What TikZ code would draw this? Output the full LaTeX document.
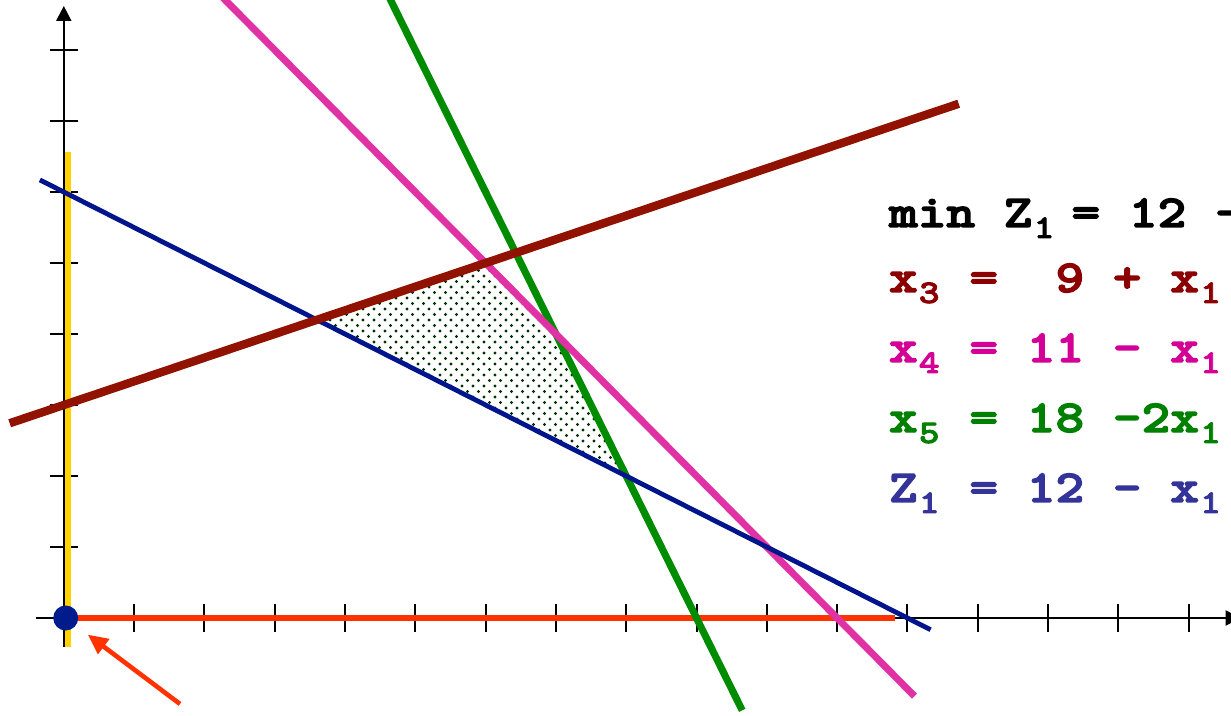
\documentclass[tikz,border=0pt]{standalone}
\usepackage{graphicx}
\usetikzlibrary{arrows.meta,patterns.meta}
\definecolor{cRed}{RGB}{145,18,0}
\definecolor{cRedT}{RGB}{139,0,0}
\definecolor{cPink}{RGB}{224,50,165}
\definecolor{cPinkT}{RGB}{212,0,150}
\definecolor{cGreen}{RGB}{0,140,0}
\definecolor{cGreenT}{RGB}{0,128,0}
\definecolor{cBlue}{RGB}{0,20,140}
\definecolor{cBlueT}{RGB}{51,51,153}
\definecolor{cYel}{RGB}{255,210,0}
\definecolor{cOr}{RGB}{255,50,0}
\definecolor{cDot}{RGB}{0,28,140}
\definecolor{cHatch}{RGB}{0,50,0}
\pgfdeclarepattern{
  name=lpdots, type=uncolored,
  bottom left={\pgfpoint{-1pt}{-1pt}},
  top right={\pgfpoint{4.5pt}{4.5pt}},
  tile size={\pgfpoint{5.5pt}{5.5pt}},
  code={\pgfpathcircle{\pgfpointorigin}{0.8pt}\pgfpathcircle{\pgfpoint{2.75pt}{2.75pt}}{0.8pt}\pgfusepath{fill}}
}
\font\eqmain="[lmmonolt10-bold]:embolden=3;extend=1.195" at 22.9pt
\font\eqsmall="[lmmonolt10-bold]:embolden=2.5;extend=1.195" at 16.5pt
\newcommand\mcell[1]{\makebox[14.35pt]{#1}}
\newcommand\msub[1]{\makebox[11.5pt]{\raisebox{-5.5pt}{\eqsmall #1}}}
\newcommand\msp{\hspace*{14.35pt}}
\begin{document}
\begin{tikzpicture}[x=0.5pt,y=-0.5pt,
  axisline/.style={line width=1pt,black},
  tickline/.style={line width=1pt,black},
  eqn/.style={anchor=base west,inner sep=0pt,font=\eqmain},
  cline/.style={line width=#1}]
\useasboundingbox (0,0) rectangle (1231,716);
\clip (0,0) rectangle (1231,716);
\begin{scope}[shift={(63.8,618)},x=35.15pt,y=35.5pt]
  % feasible region
  \coordinate (v1) at (3.6,4.2);
  \coordinate (v2) at (6,5);
  \coordinate (v3) at (7,4);
  \coordinate (v4) at (8,2);
  \fill[pattern=lpdots,pattern color=cHatch] (v1) -- (v2) -- (v3) -- (v4) -- cycle;
  % axes
  \coordinate (xs) at (-0.4,0);
  \coordinate (xe) at (16.74,0);
  \coordinate (ys) at (0,-0.41);
  \coordinate (ye) at (0,8.62);
  \draw[axisline,-{Triangle[length=7.5pt,width=7.5pt]}] (xs) -- (xe);
  \draw[axisline,-{Triangle[length=7.5pt,width=7.5pt]}] (ys) -- (ye);
  \foreach \k in {1,...,16} {\draw[tickline] (\k,-0.197) -- (\k,0.197);}
  \foreach \k in {1,...,8} {\draw[tickline] (-0.2,\k) -- (0.2,\k);}
  % yellow x1 = 0 edge
  \coordinate (y1) at (0.064,6.56);
  \coordinate (y2) at (0.064,-0.41);
  \draw[cline=2.8pt,cYel] (y1) -- (y2);
  % orange-red x2 = 0 edge
  \coordinate (o1) at (0,0);
  \coordinate (o2) at (11.82,0);
  \draw[cline=3.2pt,cOr] (o1) -- (o2);
  % green x5 = 0
  \coordinate (g1) at (4.5,9);
  \coordinate (g2) at (9.65,-1.3);
  \draw[cline=3.6pt,cGreen] (g1) -- (g2);
  % pink x4 = 0
  \coordinate (p1) at (2,9);
  \coordinate (p2) at (12.1,-1.1);
  \draw[cline=3.5pt,cPink] (p1) -- (p2);
  % blue z1 = 0
  \coordinate (b1) at (-0.34,6.17);
  \coordinate (b2) at (12.33,-0.165);
  \draw[cline=2.4pt,cBlue] (b1) -- (b2);
  % red x3 = 0
  \coordinate (r1) at (-0.77,2.743);
  \coordinate (r2) at (12.73,7.243);
  \draw[cline=4.2pt,cRed] (r1) -- (r2);
  % origin dot and arrow
  \node[circle,fill=cDot,minimum size=12.5pt,inner sep=0pt] (dot) at (0.027,0) {};
  \coordinate (atail) at (1.653,-1.211);
  \draw[cline=2.3pt,cOr,shorten >=7.35pt,-{Triangle[length=10pt,width=9pt]}] (atail) -- (dot);
\end{scope}
\node[eqn,text=black] (t1) at (888.6,227) {\mcell{m}\mcell{i}\mcell{n}\msp\mcell{Z}\msub{1}\hspace*{8pt}\mcell{=}\msp\mcell{1}\mcell{2}\msp\mcell{-}};
\node[eqn,text=cRedT] (t2) at (888.6,292) {\mcell{x}\msub{3}\msp\mcell{=}\msp\msp\mcell{9}\msp\mcell{+}\msp\mcell{x}\msub{1}};
\node[eqn,text=cPinkT] (t3) at (888.6,362) {\mcell{x}\msub{4}\msp\mcell{=}\msp\mcell{1}\mcell{1}\msp\mcell{-}\msp\mcell{x}\msub{1}};
\node[eqn,text=cGreenT] (t4) at (888.6,432) {\mcell{x}\msub{5}\msp\mcell{=}\msp\mcell{1}\mcell{8}\msp\mcell{-}\mcell{2}\mcell{x}\msub{1}};
\node[eqn,text=cBlueT] (t5) at (888.6,502) {\mcell{Z}\msub{1}\msp\mcell{=}\msp\mcell{1}\mcell{2}\msp\mcell{-}\msp\mcell{x}\msub{1}};
\end{tikzpicture}
\end{document}
